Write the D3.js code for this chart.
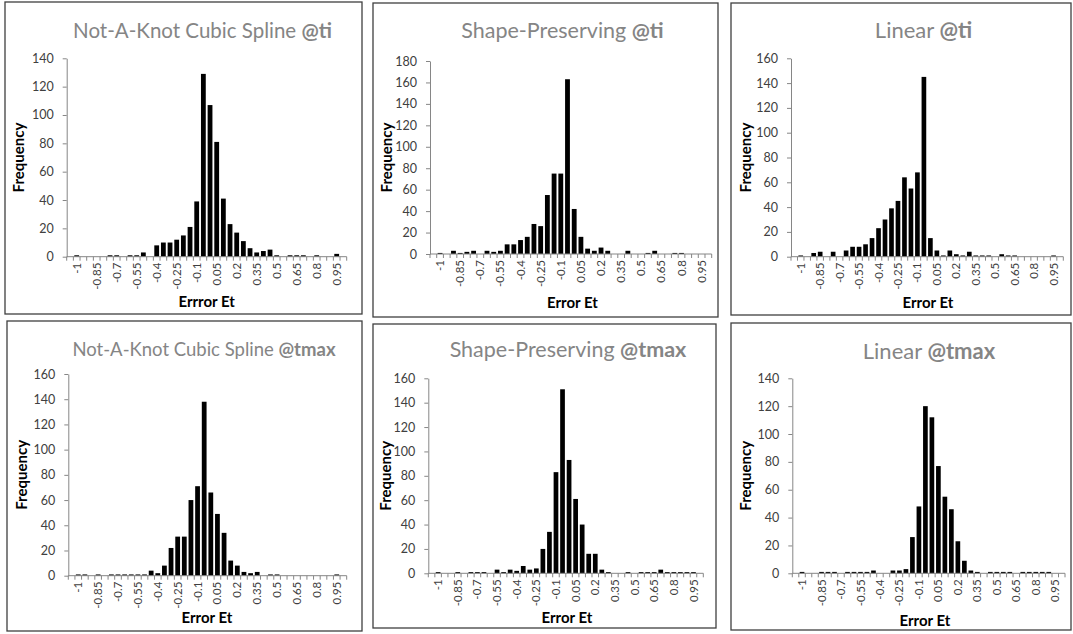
<!DOCTYPE html>
<html><head><meta charset="utf-8">
<script src="https://cdn.jsdelivr.net/npm/d3@7/dist/d3.min.js"></script>
<style>
body{margin:0;background:#fff}
svg{display:block}
text{font-family:Lato,'Open Sans',sans-serif}
</style>
</head><body>
<svg id="c" width="1073" height="634"></svg>
<script>
// ---------- data ----------
const bins = ["-1.05","-1","-0.95","-0.9","-0.85","-0.8","-0.75","-0.7","-0.65","-0.6","-0.55","-0.5","-0.45","-0.4","-0.35","-0.3","-0.25","-0.2","-0.15","-0.1","-0.05","0","0.05","0.1","0.15","0.2","0.25","0.3","0.35","0.4","0.45","0.5","0.55","0.6","0.65","0.7","0.75","0.8","0.85","0.9","0.95","1"];
const tickLabels = ["-1","-0.85","-0.7","-0.55","-0.4","-0.25","-0.1","0.05","0.2","0.35","0.5","0.65","0.8","0.95"];

const nakTi   = [0,1,0,0,0,0,1,1,0,1,1,3,0,8,10,10,12,15,21,39,129,107,81,41,23,17,11,6,3,4,5,1,0,1,1,1,0,1,0,0,2,0];
const spTi    = [0,1,0,3,1,2,3,0,3,2,3,9,9,13,16,28,26,55,75,75,163,42,16,5,3,6,3,0,0,3,0,0,1,3,0,0,1,1,0,0,0,0];
const linTi   = [0,1,0,3,4,0,4,0,5,8,8,10,15,23,30,39,45,64,55,68,145,15,5,1,5,2,1,4,1,1,1,0,2,1,1,0,0,0,0,0,1,0];
const nakTmax = [0,1,1,0,1,0,1,1,1,1,1,1,4,2,8,22,31,31,60,71,138,66,49,34,12,8,3,2,3,0,1,1,0,0,0,0,0,0,0,0,1,0];
const spTmax  = [0,1,0,0,1,0,1,1,1,0,3,1,3,2,6,3,4,20,34,83,151,93,61,40,16,16,3,1,0,0,1,0,1,1,1,3,1,1,1,1,1,0];
const linTmax = [0,1,0,0,1,1,1,0,1,1,1,1,2,0,0,2,2,3,26,48,120,112,77,55,46,23,9,2,1,0,1,1,1,1,0,1,1,1,1,1,0,0];

const seriesList = [nakTi, spTi, linTi, nakTmax, spTmax, linTmax];
const titleNames = ["Not-A-Knot Cubic Spline ","Shape-Preserving ","Linear ","Not-A-Knot Cubic Spline ","Shape-Preserving ","Linear "];
const titleTags  = ["@ti","@ti","@ti","@tmax","@tmax","@tmax"];
const xTitles    = ["Errror Et","Error Et","Error Et","Error Et","Error Et","Error Et"];
const yTitle     = "Frequency";
const yMaxes     = [140,180,160,160,160,140];
const yStep      = 20;

// ---------- layout ----------
const layout = [
  {box:[5,2,362,314],   plot:[66.7,346.7,256.7,58.3],  tx:202.5, ty:38,  ts:20.5, xtx:206.7, xty:307, ytx:19},
  {box:[373,3,718,317], plot:[430,711.7,254,61],       tx:562.5, ty:38,  ts:21.5, xtx:572.5, xty:308, ytx:387},
  {box:[731,3,1071,315],plot:[791,1063.3,256.7,58.3],  tx:923.5, ty:38,  ts:22,   xtx:928,   xty:308, ytx:746},
  {box:[7,321,362,631], plot:[68.3,346.7,575.7,374],   tx:204,   ty:356, ts:18.5, xtx:207,   xty:623, ytx:22},
  {box:[373,324,716,628],plot:[428.3,703.3,573.3,378.3],tx:568,  ty:357, ts:21.5, xtx:567,   xty:623, ytx:386},
  {box:[731,323,1071,630],plot:[792.3,1065,573.3,378.3],tx:929,  ty:359, ts:22,   xtx:925,   xty:626, ytx:746}
];

const svg = d3.select("#c");
const AX = "#868686", TXT = "#404040";

layout.forEach((L, k) => {
  const data = seriesList[k];
  const [x0, x1, y0, yTop] = L.plot;
  const g = svg.append("g");

  g.append("rect")
    .attr("x", L.box[0]).attr("y", L.box[1])
    .attr("width", L.box[2]-L.box[0]).attr("height", L.box[3]-L.box[1])
    .attr("fill", "#fff").attr("stroke", "#3f3f3f").attr("stroke-width", 1.3);

  const xs = d3.scaleBand().domain(bins).range([x0, x1]).paddingInner(0.28).paddingOuter(0.14);
  const ys = d3.scaleLinear().domain([0, yMaxes[k]]).range([y0, yTop]);

  // y axis
  const yAxis = d3.axisLeft(ys).tickValues(d3.range(0, yMaxes[k]+1, yStep)).tickSize(4).tickSizeOuter(0).tickPadding(9);
  const ya = g.append("g").attr("transform", `translate(${x0},0)`).call(yAxis);
  ya.select(".domain").attr("stroke", AX);
  ya.selectAll(".tick line").attr("stroke", AX);
  ya.selectAll(".tick text").attr("fill", TXT).style("font-size", "12.5px").style("font-family", "Lato,sans-serif");

  // bars
  g.append("g").selectAll("rect")
    .data(bins.map((b, i) => ({b, v: data[i]})).filter(d => d.v > 0))
    .join("rect")
    .attr("x", d => xs(d.b))
    .attr("width", xs.bandwidth())
    .attr("y", d => ys(d.v))
    .attr("height", d => ys(0) - ys(d.v))
    .attr("fill", "#000");

  // x axis
  const xAxis = d3.axisBottom(xs).tickValues(tickLabels).tickSize(0).tickPadding(0);
  const xa = g.append("g").attr("transform", `translate(0,${y0})`).call(xAxis);
  xa.select(".domain").remove();
  xa.selectAll(".tick text")
    .attr("transform", "rotate(-90)")
    .attr("text-anchor", "end")
    .attr("x", -6).attr("y", 0).attr("dy", "0.35em")
    .attr("fill", TXT).style("font-size", "11.5px").style("font-family", "Lato,sans-serif");
  g.append("line").attr("x1", x0).attr("x2", x1).attr("y1", y0).attr("y2", y0).attr("stroke", AX);
  const step = xs.step();
  g.append("g").selectAll("line")
    .data(d3.range(bins.length + 1))
    .join("line")
    .attr("x1", i => x0 + i*step).attr("x2", i => x0 + i*step)
    .attr("y1", y0).attr("y2", y0 + 4)
    .attr("stroke", AX);

  // title
  const t = g.append("text").attr("x", L.tx).attr("y", L.ty).attr("text-anchor", "middle")
    .attr("fill", "#858585").style("font-size", L.ts + "px");
  t.append("tspan").text(titleNames[k]);
  t.append("tspan").attr("font-weight", "bold").text(titleTags[k]);

  // axis titles
  g.append("text").attr("x", L.xtx).attr("y", L.xty).attr("text-anchor", "middle")
    .attr("font-weight", "bold").style("font-size", "15px").attr("fill", "#000").text(xTitles[k]);
  g.append("text")
    .attr("transform", `translate(${L.ytx},${(y0+yTop)/2}) rotate(-90)`)
    .attr("text-anchor", "middle").attr("dy", "0.35em")
    .attr("font-weight", "bold").style("font-size", "15px").attr("fill", "#000").text(yTitle);
});
</script>
</body></html>
